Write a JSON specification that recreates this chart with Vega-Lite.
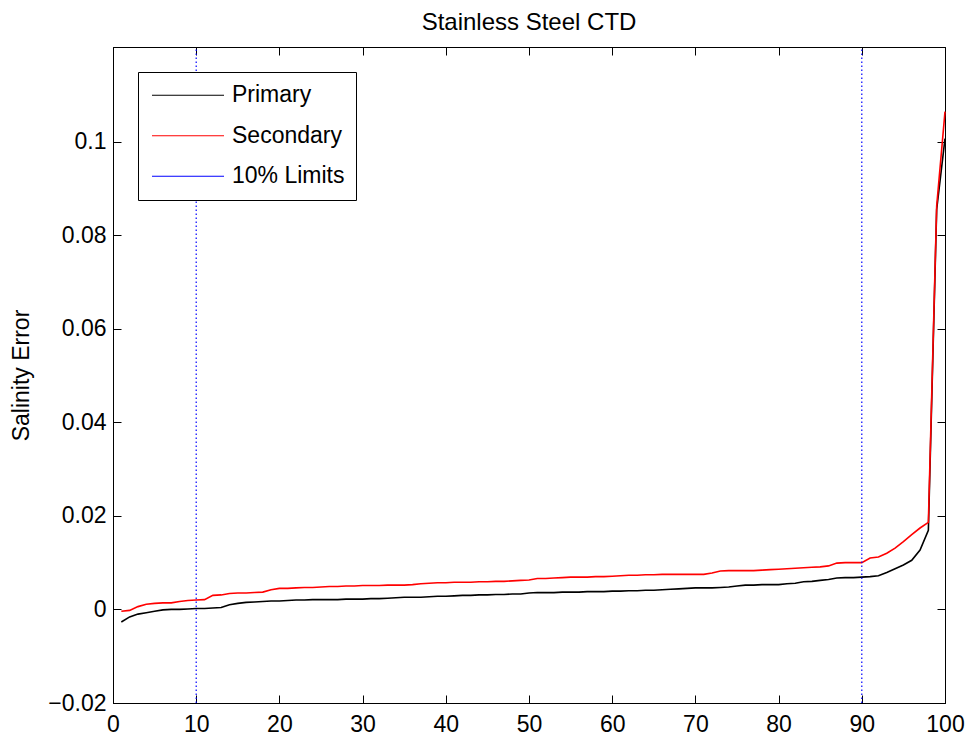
{
  "$schema": "https://vega.github.io/schema/vega-lite/v6.json",
  "width": 832,
  "height": 656,
  "autosize": {"type": "none"},
  "padding": {"left": 113, "top": 47, "right": 25, "bottom": 37},
  "background": "white",
  "title": {
    "text": "Stainless Steel CTD",
    "font": "Liberation Sans",
    "fontSize": 24,
    "fontWeight": "normal",
    "color": "black",
    "anchor": "middle",
    "baseline": "alphabetic",
    "offset": -8
  },
  "config": {
    "font": "Liberation Sans",
    "view": {"stroke": "black", "strokeWidth": 1},
    "axis": {
      "grid": false,
      "domainColor": "black",
      "domainWidth": 1,
      "tickColor": "black",
      "tickWidth": 1,
      "tickSize": -8,
      "labelColor": "black",
      "labelFont": "Liberation Sans",
      "labelFontSize": 23,
      "labelFlush": false,
      "labelOverlap": false,
      "titleFont": "Liberation Sans",
      "titleFontSize": 23,
      "titleFontWeight": "normal",
      "titleColor": "black"
    }
  },
  "datasets": {
    "curves": [
      {"pct": 1, "series": "Primary", "err": -0.0027}, {"pct": 2, "series": "Primary", "err": -0.0016}, {"pct": 3, "series": "Primary", "err": -0.0010}, {"pct": 4, "series": "Primary", "err": -0.0007}, {"pct": 5, "series": "Primary", "err": -0.0004},
      {"pct": 6, "series": "Primary", "err": -0.0001}, {"pct": 7, "series": "Primary", "err": 0.0000}, {"pct": 8, "series": "Primary", "err": 0.0000}, {"pct": 9, "series": "Primary", "err": 0.0001}, {"pct": 10, "series": "Primary", "err": 0.0002},
      {"pct": 11, "series": "Primary", "err": 0.0002}, {"pct": 12, "series": "Primary", "err": 0.0003}, {"pct": 13, "series": "Primary", "err": 0.0004}, {"pct": 14, "series": "Primary", "err": 0.0010}, {"pct": 15, "series": "Primary", "err": 0.0013},
      {"pct": 16, "series": "Primary", "err": 0.0015}, {"pct": 17, "series": "Primary", "err": 0.0016}, {"pct": 18, "series": "Primary", "err": 0.0017}, {"pct": 19, "series": "Primary", "err": 0.0018}, {"pct": 20, "series": "Primary", "err": 0.0018},
      {"pct": 21, "series": "Primary", "err": 0.0019}, {"pct": 22, "series": "Primary", "err": 0.0020}, {"pct": 23, "series": "Primary", "err": 0.0020}, {"pct": 24, "series": "Primary", "err": 0.0021}, {"pct": 25, "series": "Primary", "err": 0.0021},
      {"pct": 26, "series": "Primary", "err": 0.0021}, {"pct": 27, "series": "Primary", "err": 0.0021}, {"pct": 28, "series": "Primary", "err": 0.0022}, {"pct": 29, "series": "Primary", "err": 0.0022}, {"pct": 30, "series": "Primary", "err": 0.0022},
      {"pct": 31, "series": "Primary", "err": 0.0023}, {"pct": 32, "series": "Primary", "err": 0.0023}, {"pct": 33, "series": "Primary", "err": 0.0024}, {"pct": 34, "series": "Primary", "err": 0.0025}, {"pct": 35, "series": "Primary", "err": 0.0026},
      {"pct": 36, "series": "Primary", "err": 0.0026}, {"pct": 37, "series": "Primary", "err": 0.0026}, {"pct": 38, "series": "Primary", "err": 0.0027}, {"pct": 39, "series": "Primary", "err": 0.0028}, {"pct": 40, "series": "Primary", "err": 0.0028},
      {"pct": 41, "series": "Primary", "err": 0.0029}, {"pct": 42, "series": "Primary", "err": 0.0030}, {"pct": 43, "series": "Primary", "err": 0.0030}, {"pct": 44, "series": "Primary", "err": 0.0031}, {"pct": 45, "series": "Primary", "err": 0.0031},
      {"pct": 46, "series": "Primary", "err": 0.0032}, {"pct": 47, "series": "Primary", "err": 0.0032}, {"pct": 48, "series": "Primary", "err": 0.0033}, {"pct": 49, "series": "Primary", "err": 0.0033}, {"pct": 50, "series": "Primary", "err": 0.0035},
      {"pct": 51, "series": "Primary", "err": 0.0036}, {"pct": 52, "series": "Primary", "err": 0.0036}, {"pct": 53, "series": "Primary", "err": 0.0036}, {"pct": 54, "series": "Primary", "err": 0.0037}, {"pct": 55, "series": "Primary", "err": 0.0037},
      {"pct": 56, "series": "Primary", "err": 0.0037}, {"pct": 57, "series": "Primary", "err": 0.0038}, {"pct": 58, "series": "Primary", "err": 0.0038}, {"pct": 59, "series": "Primary", "err": 0.0038}, {"pct": 60, "series": "Primary", "err": 0.0039},
      {"pct": 61, "series": "Primary", "err": 0.0039}, {"pct": 62, "series": "Primary", "err": 0.0040}, {"pct": 63, "series": "Primary", "err": 0.0040}, {"pct": 64, "series": "Primary", "err": 0.0041}, {"pct": 65, "series": "Primary", "err": 0.0041},
      {"pct": 66, "series": "Primary", "err": 0.0042}, {"pct": 67, "series": "Primary", "err": 0.0043}, {"pct": 68, "series": "Primary", "err": 0.0044}, {"pct": 69, "series": "Primary", "err": 0.0045}, {"pct": 70, "series": "Primary", "err": 0.0046},
      {"pct": 71, "series": "Primary", "err": 0.0046}, {"pct": 72, "series": "Primary", "err": 0.0046}, {"pct": 73, "series": "Primary", "err": 0.0047}, {"pct": 74, "series": "Primary", "err": 0.0048}, {"pct": 75, "series": "Primary", "err": 0.0050},
      {"pct": 76, "series": "Primary", "err": 0.0052}, {"pct": 77, "series": "Primary", "err": 0.0052}, {"pct": 78, "series": "Primary", "err": 0.0053}, {"pct": 79, "series": "Primary", "err": 0.0053}, {"pct": 80, "series": "Primary", "err": 0.0053},
      {"pct": 81, "series": "Primary", "err": 0.0055}, {"pct": 82, "series": "Primary", "err": 0.0056}, {"pct": 83, "series": "Primary", "err": 0.0059}, {"pct": 84, "series": "Primary", "err": 0.0060}, {"pct": 85, "series": "Primary", "err": 0.0062},
      {"pct": 86, "series": "Primary", "err": 0.0064}, {"pct": 87, "series": "Primary", "err": 0.0067}, {"pct": 88, "series": "Primary", "err": 0.0068}, {"pct": 89, "series": "Primary", "err": 0.0068}, {"pct": 90, "series": "Primary", "err": 0.0069},
      {"pct": 91, "series": "Primary", "err": 0.0070}, {"pct": 92, "series": "Primary", "err": 0.0072}, {"pct": 93, "series": "Primary", "err": 0.0079}, {"pct": 94, "series": "Primary", "err": 0.0087}, {"pct": 95, "series": "Primary", "err": 0.0095},
      {"pct": 96, "series": "Primary", "err": 0.0105}, {"pct": 97, "series": "Primary", "err": 0.0127}, {"pct": 98, "series": "Primary", "err": 0.0169}, {"pct": 99, "series": "Primary", "err": 0.0855}, {"pct": 100, "series": "Primary", "err": 0.1006},
      {"pct": 1, "series": "Secondary", "err": -0.0004}, {"pct": 2, "series": "Secondary", "err": -0.0002}, {"pct": 3, "series": "Secondary", "err": 0.0006}, {"pct": 4, "series": "Secondary", "err": 0.0011}, {"pct": 5, "series": "Secondary", "err": 0.0013},
      {"pct": 6, "series": "Secondary", "err": 0.0014}, {"pct": 7, "series": "Secondary", "err": 0.0014}, {"pct": 8, "series": "Secondary", "err": 0.0017}, {"pct": 9, "series": "Secondary", "err": 0.0019}, {"pct": 10, "series": "Secondary", "err": 0.0020},
      {"pct": 11, "series": "Secondary", "err": 0.0021}, {"pct": 12, "series": "Secondary", "err": 0.0030}, {"pct": 13, "series": "Secondary", "err": 0.0031}, {"pct": 14, "series": "Secondary", "err": 0.0034}, {"pct": 15, "series": "Secondary", "err": 0.0035},
      {"pct": 16, "series": "Secondary", "err": 0.0035}, {"pct": 17, "series": "Secondary", "err": 0.0036}, {"pct": 18, "series": "Secondary", "err": 0.0037}, {"pct": 19, "series": "Secondary", "err": 0.0042}, {"pct": 20, "series": "Secondary", "err": 0.0045},
      {"pct": 21, "series": "Secondary", "err": 0.0045}, {"pct": 22, "series": "Secondary", "err": 0.0046}, {"pct": 23, "series": "Secondary", "err": 0.0047}, {"pct": 24, "series": "Secondary", "err": 0.0047}, {"pct": 25, "series": "Secondary", "err": 0.0048},
      {"pct": 26, "series": "Secondary", "err": 0.0049}, {"pct": 27, "series": "Secondary", "err": 0.0049}, {"pct": 28, "series": "Secondary", "err": 0.0050}, {"pct": 29, "series": "Secondary", "err": 0.0050}, {"pct": 30, "series": "Secondary", "err": 0.0051},
      {"pct": 31, "series": "Secondary", "err": 0.0051}, {"pct": 32, "series": "Secondary", "err": 0.0051}, {"pct": 33, "series": "Secondary", "err": 0.0052}, {"pct": 34, "series": "Secondary", "err": 0.0052}, {"pct": 35, "series": "Secondary", "err": 0.0052},
      {"pct": 36, "series": "Secondary", "err": 0.0053}, {"pct": 37, "series": "Secondary", "err": 0.0055}, {"pct": 38, "series": "Secondary", "err": 0.0056}, {"pct": 39, "series": "Secondary", "err": 0.0057}, {"pct": 40, "series": "Secondary", "err": 0.0057},
      {"pct": 41, "series": "Secondary", "err": 0.0058}, {"pct": 42, "series": "Secondary", "err": 0.0058}, {"pct": 43, "series": "Secondary", "err": 0.0058}, {"pct": 44, "series": "Secondary", "err": 0.0059}, {"pct": 45, "series": "Secondary", "err": 0.0059},
      {"pct": 46, "series": "Secondary", "err": 0.0060}, {"pct": 47, "series": "Secondary", "err": 0.0060}, {"pct": 48, "series": "Secondary", "err": 0.0061}, {"pct": 49, "series": "Secondary", "err": 0.0062}, {"pct": 50, "series": "Secondary", "err": 0.0063},
      {"pct": 51, "series": "Secondary", "err": 0.0066}, {"pct": 52, "series": "Secondary", "err": 0.0066}, {"pct": 53, "series": "Secondary", "err": 0.0067}, {"pct": 54, "series": "Secondary", "err": 0.0068}, {"pct": 55, "series": "Secondary", "err": 0.0069},
      {"pct": 56, "series": "Secondary", "err": 0.0069}, {"pct": 57, "series": "Secondary", "err": 0.0069}, {"pct": 58, "series": "Secondary", "err": 0.0070}, {"pct": 59, "series": "Secondary", "err": 0.0070}, {"pct": 60, "series": "Secondary", "err": 0.0071},
      {"pct": 61, "series": "Secondary", "err": 0.0072}, {"pct": 62, "series": "Secondary", "err": 0.0073}, {"pct": 63, "series": "Secondary", "err": 0.0073}, {"pct": 64, "series": "Secondary", "err": 0.0074}, {"pct": 65, "series": "Secondary", "err": 0.0074},
      {"pct": 66, "series": "Secondary", "err": 0.0075}, {"pct": 67, "series": "Secondary", "err": 0.0075}, {"pct": 68, "series": "Secondary", "err": 0.0075}, {"pct": 69, "series": "Secondary", "err": 0.0075}, {"pct": 70, "series": "Secondary", "err": 0.0075},
      {"pct": 71, "series": "Secondary", "err": 0.0075}, {"pct": 72, "series": "Secondary", "err": 0.0078}, {"pct": 73, "series": "Secondary", "err": 0.0082}, {"pct": 74, "series": "Secondary", "err": 0.0083}, {"pct": 75, "series": "Secondary", "err": 0.0083},
      {"pct": 76, "series": "Secondary", "err": 0.0083}, {"pct": 77, "series": "Secondary", "err": 0.0083}, {"pct": 78, "series": "Secondary", "err": 0.0084}, {"pct": 79, "series": "Secondary", "err": 0.0085}, {"pct": 80, "series": "Secondary", "err": 0.0086},
      {"pct": 81, "series": "Secondary", "err": 0.0087}, {"pct": 82, "series": "Secondary", "err": 0.0088}, {"pct": 83, "series": "Secondary", "err": 0.0089}, {"pct": 84, "series": "Secondary", "err": 0.0090}, {"pct": 85, "series": "Secondary", "err": 0.0091},
      {"pct": 86, "series": "Secondary", "err": 0.0093}, {"pct": 87, "series": "Secondary", "err": 0.0099}, {"pct": 88, "series": "Secondary", "err": 0.0100}, {"pct": 89, "series": "Secondary", "err": 0.0100}, {"pct": 90, "series": "Secondary", "err": 0.0100},
      {"pct": 91, "series": "Secondary", "err": 0.0110}, {"pct": 92, "series": "Secondary", "err": 0.0112}, {"pct": 93, "series": "Secondary", "err": 0.0120}, {"pct": 94, "series": "Secondary", "err": 0.0131}, {"pct": 95, "series": "Secondary", "err": 0.0145},
      {"pct": 96, "series": "Secondary", "err": 0.0160}, {"pct": 97, "series": "Secondary", "err": 0.0174}, {"pct": 98, "series": "Secondary", "err": 0.0186}, {"pct": 99, "series": "Secondary", "err": 0.0862}, {"pct": 100, "series": "Secondary", "err": 0.1064}
    ],
    "limits": [{"pct": 10}, {"pct": 90}]
  },
  "layer": [
    {
      "data": {"name": "curves"},
      "mark": {"type": "line", "strokeWidth": 1.6, "interpolate": "linear"},
      "encoding": {
        "x": {
          "field": "pct",
          "type": "quantitative",
          "scale": {"domain": [0, 100], "nice": false, "zero": false},
          "axis": {
            "orient": "bottom",
            "title": null,
            "values": [0, 10, 20, 30, 40, 50, 60, 70, 80, 90, 100],
            "labelPadding": 18
          }
        },
        "y": {
          "field": "err",
          "type": "quantitative",
          "scale": {"domain": [-0.02, 0.1202], "nice": false, "zero": false},
          "axis": {
            "orient": "left",
            "title": "Salinity Error",
            "values": [-0.02, 0, 0.02, 0.04, 0.06, 0.08, 0.1],
            "format": "~g",
            "labelPadding": 15,
            "titlePadding": 14
          }
        },
        "color": {
          "field": "series",
          "type": "nominal",
          "scale": {
            "domain": ["Primary", "Secondary", "10% Limits"],
            "range": ["#000000", "#ff0000", "#0000ff"]
          },
          "legend": {
            "title": null,
            "orient": "none",
            "legendX": 25,
            "legendY": 25,
            "direction": "vertical",
            "fillColor": "white",
            "strokeColor": "black",
            "cornerRadius": 0,
            "padding": 11.5,
            "rowPadding": 16.5,
            "clipHeight": 23.5,
            "symbolType": "stroke",
            "symbolSize": 5184,
            "symbolOffset": 1.5,
            "symbolStrokeWidth": 1.2,
            "symbolDash": [],
            "symbolOpacity": 1,
            "labelOffset": 7,
            "labelFont": "Liberation Sans",
            "labelFontSize": 23,
            "labelColor": "black",
            "labelLimit": 300
          }
        },
        "order": {"field": "pct", "type": "quantitative"}
      }
    },
    {
      "data": {"name": "limits"},
      "mark": {"type": "rule", "strokeWidth": 1.2, "strokeDash": [1.5, 2.5]},
      "encoding": {
        "x": {
          "field": "pct",
          "type": "quantitative",
          "axis": {
            "orient": "top",
            "title": null,
            "labels": false,
            "values": [0, 10, 20, 30, 40, 50, 60, 70, 80, 90, 100]
          }
        },
        "y": {
          "datum": -0.02,
          "type": "quantitative",
          "axis": {
            "orient": "right",
            "title": null,
            "labels": false,
            "values": [-0.02, 0, 0.02, 0.04, 0.06, 0.08, 0.1]
          }
        },
        "y2": {"datum": 0.1202},
        "color": {"datum": "10% Limits", "type": "nominal"}
      }
    }
  ],
  "resolve": {"axis": {"x": "independent", "y": "independent"}}
}
